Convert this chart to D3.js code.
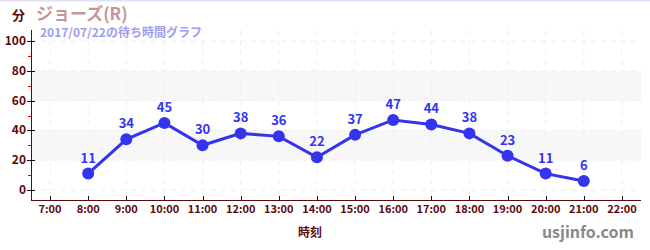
<!DOCTYPE html>
<html><head><meta charset="utf-8">
<script src="https://cdn.jsdelivr.net/npm/d3@7"></script>
<style>
body{margin:0;background:#fff;}
svg{display:block;font-family:"Noto Sans CJK JP","Noto Sans",sans-serif;}
</style></head><body>
<svg id="c" width="650" height="250"></svg>
<script>
const hours = [8,9,10,11,12,13,14,15,16,17,18,19,20,21];
const waits = [11,34,45,30,38,36,22,37,47,44,38,23,11,6];
const xTicks = [7,8,9,10,11,12,13,14,15,16,17,18,19,20,21,22];
const yTicks = [0,20,40,60,80,100];
const yMinor = [10,30,50,70,90];
const bands = [[20,40],[60,80]];

const svg = d3.select("#c");
const L=31,R=641,T=30,B=200;
const x = d3.scaleLinear().domain([6.5,22.5]).range([L,R]);
const y = d3.scaleLinear().domain([0,100]).range([190,41]);

svg.append("line").attr("x1",0).attr("x2",650).attr("y1",0.5).attr("y2",0.5).attr("stroke","#e2e2f8").attr("stroke-width",2);

// bands
svg.selectAll("rect.band").data(bands).enter().append("rect")
 .attr("x",L).attr("width",R-L).attr("y",d=>y(d[1])).attr("height",d=>y(d[0])-y(d[1])).attr("fill","#f7f7f7");

// grid
svg.selectAll("line.vg").data(xTicks).enter().append("line")
 .attr("x1",d=>x(d)).attr("x2",d=>x(d)).attr("y1",T).attr("y2",B)
 .attr("stroke","#eeeeee").attr("stroke-dasharray","5,5");
svg.selectAll("line.hg").data(yTicks).enter().append("line")
 .attr("x1",L).attr("x2",R).attr("y1",d=>y(d)).attr("y2",d=>y(d))
 .attr("stroke","#eeeeee").attr("stroke-dasharray","5,5");

// axes
const axCol="#5a0a0a";
svg.append("line").attr("x1",L+0.5).attr("x2",L+0.5).attr("y1",T).attr("y2",B).attr("stroke",axCol);
svg.append("line").attr("x1",L).attr("x2",R).attr("y1",B+0.5).attr("y2",B+0.5).attr("stroke",axCol);

svg.selectAll("line.ymin").data(yMinor).enter().append("line")
 .attr("x1",L-3).attr("x2",L).attr("y1",d=>Math.round(y(d))+0.5).attr("y2",d=>Math.round(y(d))+0.5).attr("stroke","#e00");
svg.selectAll("line.ymaj").data(yTicks).enter().append("line")
 .attr("x1",L-4).attr("x2",L+4).attr("y1",d=>Math.round(y(d))+0.5).attr("y2",d=>Math.round(y(d))+0.5).attr("stroke","#111");
svg.selectAll("text.yl").data(yTicks).enter().append("text")
 .attr("x",L-5).attr("y",d=>y(d)+4).attr("text-anchor","end")
 .attr("font-size",12).attr("font-weight","bold").attr("fill",axCol).text(d=>d);

svg.selectAll("line.xt").data(xTicks).enter().append("line")
 .attr("x1",d=>Math.round(x(d))+0.5).attr("x2",d=>Math.round(x(d))+0.5).attr("y1",B-4).attr("y2",B).attr("stroke","#111");
svg.selectAll("text.xl").data(xTicks).enter().append("text")
 .attr("x",d=>x(d)).attr("y",B+13).attr("text-anchor","middle")
 .attr("font-size",11).attr("font-weight","bold").attr("fill",axCol).text(d=>d+":00");

// line
const blue="#3434ee";
svg.append("path").datum(hours.map((h,i)=>[h,waits[i]]))
 .attr("d",d3.line().x(d=>x(d[0])).y(d=>y(d[1])))
 .attr("fill","none").attr("stroke",blue).attr("stroke-width",3);
svg.selectAll("circle.pt").data(hours).enter().append("circle")
 .attr("cx",d=>x(d)).attr("cy",(d,i)=>y(waits[i])).attr("r",6).attr("fill",blue);
svg.selectAll("text.pl").data(hours).enter().append("text")
 .attr("x",d=>x(d)).attr("y",(d,i)=>y(waits[i])-11).attr("text-anchor","middle")
 .attr("font-size",13).attr("font-weight","bold").attr("fill",blue).text((d,i)=>waits[i]);

// titles
svg.append("text").attr("x",12).attr("y",20).attr("font-size",13).attr("font-weight","bold").attr("fill",axCol).text("分");
svg.append("text").attr("x",36).attr("y",20).attr("font-size",17).attr("font-weight","bold").attr("fill","#c89595").text("ジョーズ(R)");
svg.append("text").attr("x",40).attr("y",37).attr("font-size",12).attr("font-weight","bold").attr("fill","#9d9df0").text("2017/07/22の待ち時間グラフ");
svg.append("text").attr("x",310).attr("y",237).attr("text-anchor","middle").attr("font-size",12).attr("font-weight","bold").attr("fill",axCol).text("時刻");
svg.append("text").attr("x",634).attr("y",238).attr("text-anchor","end").attr("font-size",16).attr("font-weight","bold").attr("fill","#888").text("usjinfo.com");
</script></body></html>
